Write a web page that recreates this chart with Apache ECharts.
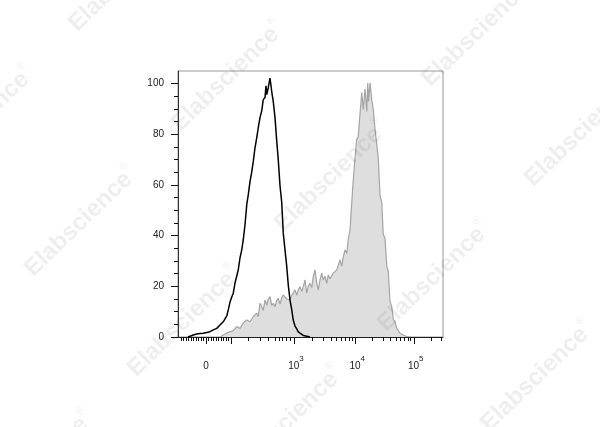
<!DOCTYPE html>
<html><head><meta charset="utf-8">
<script src="https://cdn.jsdelivr.net/npm/echarts@6/dist/echarts.min.js"></script>
<style>html,body{margin:0;padding:0;background:#fff}#c{width:600px;height:427px}</style>
</head><body><div id="c"></div>
<script>
// Histograms on a channel (display) scale 0..1060; y = % of max
const blackData = [[40,0],[48,0.2],[61,0.8],[75,1.2],[88,1.4],[101,1.5],[115,1.8],[128,2.1],[141,2.8],[155,3.4],[168,4.7],[181,6.0],[195,8.3],[201,10.7],[208,13.8],[215,15.8],[221,17.3],[228,21.3],[235,24.1],[241,26.5],[248,31.2],[255,34.4],[261,38.3],[268,44.3],[275,52.2],[281,56.1],[288,61.3],[295,65.2],[301,69.2],[308,74.7],[315,78.7],[321,82.6],[328,86.6],[335,89.3],[341,93.7],[348,94.5],[352,99.2],[355,95.7],[361,98.4],[368,102.2],[375,96.8],[381,93.0],[388,86.6],[395,77.2],[401,70],[408,59.7],[415,53],[421,41.1],[428,34.4],[435,27.8],[441,20.6],[448,14.6],[455,10.7],[461,6.7],[468,4.3],[475,3.2],[481,2.0],[488,1.4],[501,0.6],[515,0.3],[528,0]];
const greyData = [[168,0],[181,0.8],[195,1.6],[208,2.0],[221,2.5],[235,4.1],[248,3.4],[261,5.5],[275,6.7],[288,6],[301,8],[315,9.4],[321,8],[328,13.3],[335,12],[341,10.5],[348,14.6],[355,12.5],[361,15],[368,15.9],[375,12.5],[381,13.3],[388,12],[395,14.5],[401,15.3],[408,13],[415,15.5],[421,16.6],[428,17.3],[435,15],[441,14.6],[448,14.6],[455,16.5],[461,17.3],[468,18.6],[475,16.5],[481,18.6],[488,19.9],[495,18],[501,19.9],[508,22.5],[515,17.3],[521,20],[528,21.2],[535,19.5],[541,23.8],[548,26.5],[555,21.2],[561,18.6],[568,22.5],[575,25.2],[581,22.5],[588,24],[595,21.2],[601,24.5],[608,23],[615,22.5],[621,25.2],[628,24.5],[635,26.5],[641,26.5],[648,30.4],[655,28],[661,31.5],[668,34.4],[675,33],[681,38.5],[688,42.3],[695,53],[701,62],[708,70.5],[715,78],[721,79],[728,88],[735,96.5],[741,89.7],[748,98],[755,89],[759,100.3],[762,93],[768,100.3],[775,93.7],[781,90],[788,82],[795,76],[801,70.6],[808,56],[815,53],[821,40.5],[828,39],[835,28],[841,26],[848,14],[855,12],[861,7],[868,6],[875,3.4],[881,2.6],[888,1.5],[895,1.2],[901,0.8],[908,0.6],[915,0.2],[928,0]];

// Axis ticks (channel positions of the biexponential scale)
const xMajorTicks = [112, 212, 464, 709, 943];
const xMinorTicks = [12,22,32,42,52,62,72,82,92,102,122,132,142,152,162,172,182,192,202,281,328,361,388,404,417,431,448,538,580,611,634,654,670,684,697,778,820,849,872,890,906,919,930,1012,1054];
const xLabelPos = [112, 464, 709, 943];
const xLabelText = ['0', '10^3', '10^4', '10^5'];
const yMajorTicks = [0, 20, 40, 60, 80, 100];
const yMinorTicks = [5,10,15,25,30,35,45,50,55,65,70,75,85,90,95];
const yLabelText = ['0', '20', '40', '60', '80', '100'];

const FONT = 'Arial, "Liberation Sans", sans-serif';
const chart = echarts.init(document.getElementById('c'), null, {renderer: 'canvas'});

const wm = [];
for (let a = -4; a <= 4; a++) {
  for (let b = -3; b <= 3; b++) {
    const x = 330 + 103 * a + 250 * b, y = 175 + 100 * a - 45 * b;
    if (x > -90 && x < 690 && y > -70 && y < 500) {
      wm.push({
        type: 'text', x: x, y: y, rotation: 44 * Math.PI / 180, z: 100, silent: true,
        style: {
          text: '{a|Elabscience}{r|®}', align: 'center', verticalAlign: 'middle',
          rich: {
            a: {fontFamily: FONT, fontWeight: 'bold', fontSize: 24, fill: 'rgba(0,0,0,0.065)', verticalAlign: 'bottom', lineHeight: 28},
            r: {fontFamily: FONT, fontSize: 11, fill: 'rgba(0,0,0,0.065)', verticalAlign: 'top', lineHeight: 28}
          }
        }
      });
    }
  }
}

function xLabel(v) {
  const i = xLabelPos.indexOf(v);
  if (i < 0) return '';
  const t = xLabelText[i];
  if (t.indexOf('^') < 0) return '{z|' + t + '}';
  const p = t.split('^');
  return '{b|' + p[0] + '}{s|' + p[1] + '}';
}

chart.setOption({
  animation: false,
  backgroundColor: '#fff',
  grid: {left: 178, right: 157, top: 71, bottom: 90, show: true, borderColor: '#9a9a9a', borderWidth: 1, backgroundColor: 'transparent'},
  graphic: wm,
  xAxis: [{
    type: 'value', min: 0, max: 1060, position: 'bottom',
    axisLine: {show: true, onZero: false, lineStyle: {color: '#222', width: 1}},
    axisTick: {show: true, customValues: xMajorTicks, length: 7, lineStyle: {color: '#111', width: 1}},
    axisLabel: {
      customValues: xLabelPos, formatter: xLabel, margin: 18, color: '#222',
      rich: {
        z: {fontFamily: FONT, fontSize: 10, color: '#222', lineHeight: 16, verticalAlign: 'bottom'},
        b: {fontFamily: FONT, fontSize: 10, color: '#222', lineHeight: 16, verticalAlign: 'bottom', padding: [0, 0, 0, 4]},
        s: {fontFamily: FONT, fontSize: 8, color: '#222', lineHeight: 16, verticalAlign: 'top'}
      }
    },
    splitLine: {show: false}
  }, {
    type: 'value', min: 0, max: 1060, position: 'bottom',
    axisLine: {show: false, onZero: false},
    axisTick: {show: true, customValues: xMinorTicks, length: 4, lineStyle: {color: '#111', width: 1}},
    axisLabel: {show: false},
    splitLine: {show: false}
  }],
  yAxis: [{
    type: 'value', min: 0, max: 105, position: 'left',
    axisLine: {show: true, onZero: false, lineStyle: {color: '#333', width: 1}},
    axisTick: {show: true, customValues: yMajorTicks, length: 7, lineStyle: {color: '#111', width: 1}},
    axisLabel: {customValues: yMajorTicks, formatter: function (v) { return yLabelText[yMajorTicks.indexOf(v)]; }, margin: 14, fontFamily: FONT, fontSize: 10, color: '#222'},
    splitLine: {show: false}
  }, {
    type: 'value', min: 0, max: 105, position: 'left',
    axisLine: {show: false, onZero: false},
    axisTick: {show: true, customValues: yMinorTicks, length: 4, lineStyle: {color: '#111', width: 1}},
    axisLabel: {show: false},
    splitLine: {show: false}
  }],
  series: [{
    name: 'stained', type: 'line', data: greyData, xAxisIndex: 0, yAxisIndex: 0,
    symbol: 'none', smooth: false, z: 2,
    lineStyle: {color: '#a4a4a4', width: 1.2},
    areaStyle: {color: '#dedede', opacity: 1}
  }, {
    name: 'control', type: 'line', data: blackData, xAxisIndex: 0, yAxisIndex: 0,
    symbol: 'none', smooth: false, z: 3,
    lineStyle: {color: '#000', width: 1.5}
  }]
});
</script>
</body></html>
